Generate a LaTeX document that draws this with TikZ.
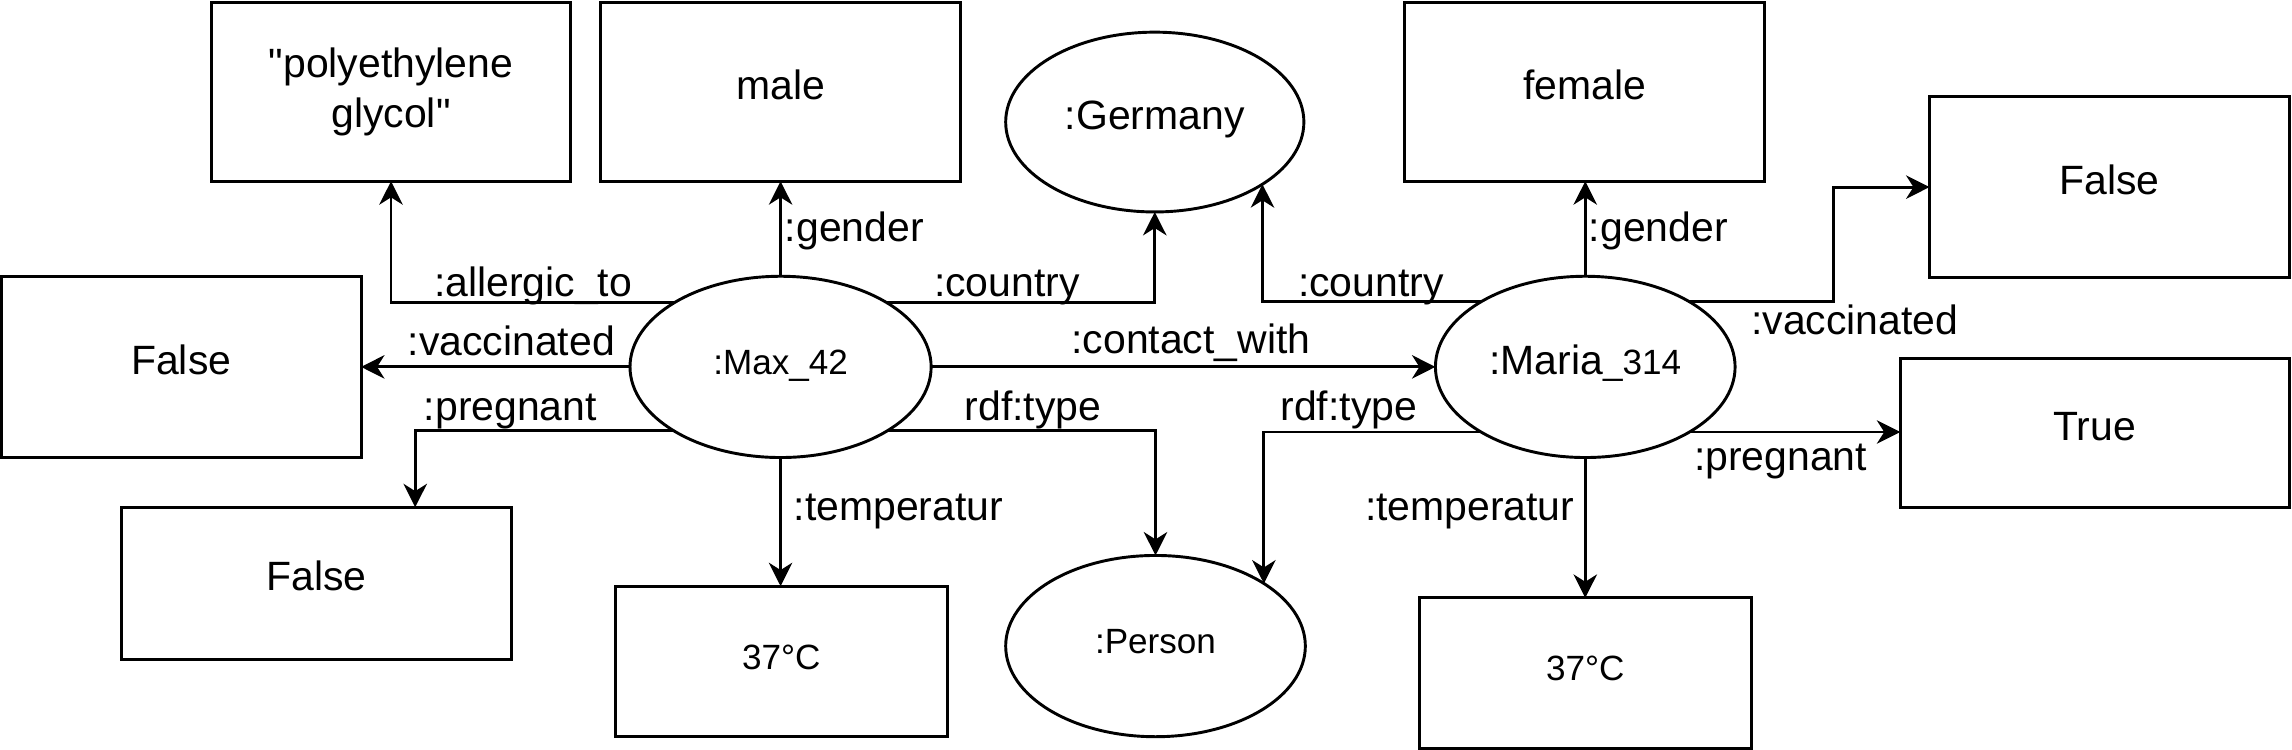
\documentclass[tikz,border=0pt]{standalone}
\usepackage{fontspec}
\setmainfont{Liberation Sans}
\usetikzlibrary{arrows.meta,shapes.geometric,calc}
\begin{document}
\begin{tikzpicture}[x=0.5pt,y=-0.5pt,
  every node/.style={inner sep=0pt, outer sep=0pt},
  box/.style={draw, line width=1pt, rectangle, font=\fontsize{14}{17}\selectfont, align=center},
  ell/.style={draw, line width=1pt, ellipse, font=\fontsize{14}{17}\selectfont},
  tc/.style={text height=0.73em, text depth=0.21em},
  lbl/.style={font=\fontsize{14}{17}\selectfont, anchor=base west},
  arr/.style={line width=1pt, -{Stealth[length=8pt,width=8pt,inset=2.5pt]}},
  small/.style={font=\fontsize{12}{14}\selectfont}]
\path[use as bounding box, fill=white] (0,0) rectangle (1568,513);

% value boxes and resources
\node[box, minimum width=122.5pt, minimum height=61pt] (poly) at (267.5,63) {\textquotedbl polyethylene\\glycol\textquotedbl};
\node[box, tc, minimum width=123pt, minimum height=61pt] (male) at (534,63) {male};
\node[ell, tc, minimum width=102pt, minimum height=61.5pt] (germany) at (790,83.5) {:Germany};
\node[box, tc, minimum width=123pt, minimum height=61pt] (female) at (1084,63) {female};
\node[box, tc, minimum width=123pt, minimum height=62pt] (ftr) at (1443,128) {False};
\node[box, tc, minimum width=123pt, minimum height=62pt] (fl) at (124,251) {False};
\node[ell, small, tc, minimum width=103pt, minimum height=62pt] (max) at (534,251) {:Max\_42};
\node[ell, tc, minimum width=102.5pt, minimum height=62pt] (maria) at (1084.5,251) {:Maria{\fontsize{12}{14}\selectfont\_314}};
\node[box, tc, minimum width=133pt, minimum height=51pt] (true) at (1433,296) {True};
\node[box, tc, minimum width=133.5pt, minimum height=52pt] (fll) at (216.5,399) {False};
\node[box, small, tc, minimum width=113.5pt, minimum height=51.5pt] (t1) at (534.5,452.5) {37°C};
\node[ell, small, tc, minimum width=102.5pt, minimum height=62pt] (person) at (790.5,442) {:Person};
\node[box, small, tc, minimum width=113.5pt, minimum height=51.5pt] (t2) at (1084.5,460.5) {37°C};

% edge labels
\node[lbl] (lAll) at (297,203) {:allergic\_to};
\node[lbl] (lGen1) at (537,165) {:gender};
\node[lbl] (lCou1) at (639,203) {:country};
\node[lbl] (lVac1) at (279,243) {:vaccinated};
\node[lbl] (lCon) at (733,242) {:contact\_with};
\node[lbl] (lPre1) at (290,288) {:pregnant};
\node[lbl] (lTem1) at (543,356) {:temperatur};
\node[lbl] (lTyp1) at (660,288) {rdf:type};
\node[lbl] (lCou2) at (888,203) {:country};
\node[lbl] (lGen2) at (1087,165) {:gender};
\node[lbl] (lVac2) at (1198,229) {:vaccinated};
\node[lbl] (lTyp2) at (876,288) {rdf:type};
\node[lbl] (lPre2) at (1159,322) {:pregnant};
\node[lbl, anchor=base east] (lTem2) at (1077,356) {:temperatur};

% edges
\draw[arr] (max.149) -| (poly.south);
\draw[arr] (max.north) -- (male.south);
\draw[arr] (max.31) -| (germany.south);
\draw[arr] (max.west) -- (fl.east);
\draw[arr] (max.east) -- (maria.west);
\draw[arr] (max.-149) -| ($(fll.north west)!0.753!(fll.north east)$);
\draw[arr] (max.south) -- (max.south |- t1.north);
\draw[arr] (max.-31) -| (person.north);
\draw[arr] (maria.148) -| (germany.-30);
\draw[arr] (maria.north) -- (maria.north |- female.south);
\draw[arr] (maria.32) -| ($(ftr.west)+(-66,0)$) -- (ftr.west);
\draw[arr] (maria.-148) -| (person.30);
\draw[arr] (maria.-32) -- (maria.-32 -| true.west);
\draw[arr] (maria.south) -- (t2.north);
\end{tikzpicture}
\end{document}
